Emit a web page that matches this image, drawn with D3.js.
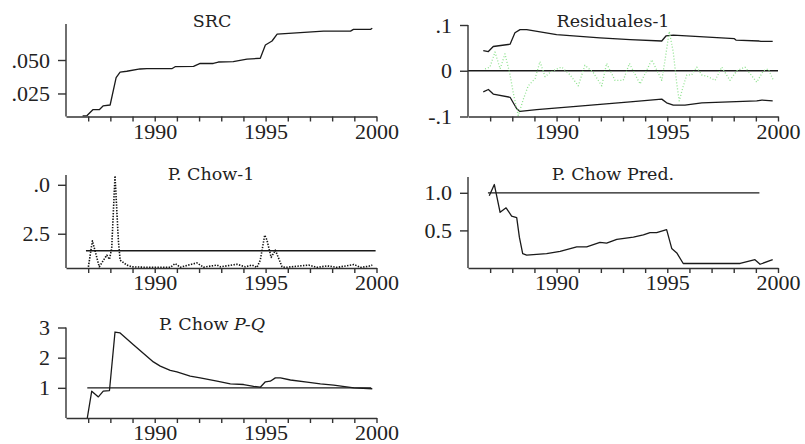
<!DOCTYPE html>
<html>
<head>
<meta charset="utf-8">
<script src="https://cdn.jsdelivr.net/npm/d3@7"></script>
<style>
  body { margin: 0; background: #fff; }
  svg { display: block; }
</style>
</head>
<body>
<div id="chart"></div>
<script>
// year ticks, only 1990/1995/2000 get a label
const yearTicks = [1987, 1988, 1989, 1990, 1991, 1992, 1993, 1994, 1995, 1996, 1997, 1998, 1999, 2000];
const yearLabels = ["1990", "1995", "2000"];

// SRC
const srcYears  = [1986.75, 1986.95, 1987.21, 1987.5, 1987.67, 1987.99, 1988.26, 1988.44, 1988.74, 1989.34, 1989.65,
                   1990.77, 1990.92, 1991.75, 1992.05, 1992.64, 1992.87, 1993.54, 1994.16, 1994.76, 1994.99,
                   1995.29, 1995.52, 1997.61, 1998.83, 1998.96, 1999.73, 1999.81];
const srcValues = [0.0082, 0.0085, 0.0129, 0.0129, 0.0157, 0.0164, 0.0368, 0.0410, 0.0416, 0.0433, 0.0435,
                   0.0435, 0.0450, 0.0452, 0.0475, 0.0474, 0.0485, 0.0488, 0.0507, 0.0513, 0.0612,
                   0.0642, 0.0694, 0.0716, 0.0716, 0.0729, 0.0729, 0.0737];
const srcTicks = [0.025, 0.050];
const srcTickLabels = [".025", ".050"];

// Residuales-1 (residual and +/- 2 s.e. bands)
const resYears  = [1986.77, 1986.99, 1987.22, 1987.45, 1987.67, 1987.90, 1988.05, 1988.27, 1988.50, 1988.72,
                   1989.03, 1989.25, 1989.48, 1989.70, 1990.01, 1990.23, 1990.61, 1990.98, 1991.28, 1991.66,
                   1992.04, 1992.26, 1992.64, 1993.01, 1993.29, 1993.77, 1994.30, 1994.75, 1994.90, 1995.09,
                   1995.27, 1995.43, 1995.54, 1995.70, 1995.88, 1996.10, 1996.33, 1996.55, 1996.85, 1997.16,
                   1997.46, 1997.83, 1998.14, 1998.51, 1999.04, 1999.34, 1999.56, 1999.79];
const resValues = [0.004, 0.008, 0.041, 0.004, 0.037, -0.009, -0.050, -0.098, -0.062, -0.033,
                   -0.017, 0.020, -0.013, -0.004, 0.004, 0.008, -0.009, -0.033, 0.012, -0.004,
                   -0.033, 0.016, -0.021, -0.021, 0.016, -0.029, 0.024, -0.021, 0.024, 0.086,
                   0.041, -0.029, -0.066, -0.037, -0.009, -0.009, 0.008, -0.009, -0.013, -0.021,
                   0.008, -0.021, 0.000, 0.008, -0.025, 0.000, 0.004, -0.021];
const upperYears  = [1986.69, 1986.92, 1987.14, 1987.90, 1988.12, 1988.35, 1988.65, 1990.0, 1991.96, 1993.32,
                     1994.75, 1994.94, 1995.27, 1998.03, 1998.10, 1999.15, 1999.23, 1999.76];
const upperValues = [0.044, 0.042, 0.053, 0.058, 0.083, 0.090, 0.090, 0.079, 0.072, 0.068,
                     0.065, 0.076, 0.078, 0.070, 0.067, 0.065, 0.064, 0.064];
const lowerYears  = [1986.69, 1986.92, 1987.14, 1987.90, 1988.20, 1988.35, 1989.10, 1990.61, 1993.32, 1994.75,
                     1994.97, 1995.27, 1995.80, 1996.56, 1999.04, 1999.27, 1999.76];
const lowerValues = [-0.046, -0.041, -0.051, -0.058, -0.083, -0.089, -0.085, -0.079, -0.068, -0.062,
                     -0.070, -0.075, -0.075, -0.070, -0.066, -0.064, -0.066];
const resTicks = [0.1, 0, -0.1];
const resTickLabels = [".1", "0", "-.1"];

// P. Chow-1
const chow1Years  = [1987.01, 1987.19, 1987.50, 1987.84, 1987.96, 1988.06, 1988.21, 1988.36, 1988.44, 1988.74,
                     1988.97, 1989.79, 1990.70, 1990.92, 1991.15, 1991.90, 1992.20, 1992.81, 1992.96, 1993.71,
                     1994.08, 1994.39, 1994.61, 1994.76, 1994.96, 1995.06, 1995.25, 1995.44, 1995.59, 1995.74,
                     1995.89, 1996.94, 1997.32, 1997.78, 1998.23, 1998.98, 1999.28, 1999.65, 1999.81];
const chow1Values = [0.81, 2.14, 0.81, 1.41, 1.19, 1.75, 5.46, 2.18, 1.15, 0.90,
                     0.81, 0.78, 0.78, 0.98, 0.79, 1.01, 0.79, 0.90, 0.81, 0.94,
                     0.81, 0.90, 0.78, 1.15, 2.43, 2.18, 1.29, 1.66, 1.24, 0.81,
                     0.78, 0.90, 0.78, 0.86, 0.78, 0.93, 0.78, 0.84, 0.90];
const chow1Crit = 1.63;
const chow1Ticks = [5.0, 2.5];
const chow1TickLabels = [".0", "2.5"];

// P. Chow Pred.
const predYears  = [1986.96, 1987.19, 1987.45, 1987.72, 1987.97, 1988.20, 1988.32, 1988.47, 1988.65, 1989.55,
                    1990.16, 1990.91, 1991.36, 1991.96, 1992.26, 1992.72, 1993.47, 1993.92, 1994.22, 1994.52,
                    1994.97, 1995.20, 1995.43, 1995.72, 1998.29, 1998.96, 1999.19, 1999.76];
const predValues = [0.96, 1.11, 0.74, 0.80, 0.69, 0.67, 0.41, 0.19, 0.17, 0.19,
                    0.22, 0.28, 0.28, 0.34, 0.33, 0.38, 0.41, 0.44, 0.47, 0.47,
                    0.51, 0.26, 0.20, 0.06, 0.06, 0.11, 0.05, 0.11];
const predTicks = [1.0, 0.5];
const predTickLabels = ["1.0", "0.5"];

// P. Chow P-Q
const pqYears  = [1986.96, 1987.16, 1987.46, 1987.68, 1987.96, 1988.21, 1988.44, 1989.04, 1989.94, 1990.25,
                  1990.70, 1991.00, 1991.60, 1992.05, 1992.81, 1993.41, 1994.01, 1994.46, 1994.76, 1994.99,
                  1995.21, 1995.44, 1995.67, 1996.12, 1996.87, 1997.47, 1998.07, 1998.98, 1999.81];
const pqValues = [0.00, 0.89, 0.70, 0.89, 0.91, 2.85, 2.82, 2.43, 1.86, 1.72,
                  1.58, 1.53, 1.39, 1.33, 1.22, 1.13, 1.11, 1.05, 1.02, 1.20,
                  1.22, 1.33, 1.33, 1.26, 1.19, 1.13, 1.09, 1.00, 0.97];
const pqTicks = [3, 2, 1];
const pqTickLabels = ["3", "2", "1"];

const toPoints = (xs, ys) => xs.map((x, i) => ({ x: x, y: ys[i] }));

const solid = { stroke: "#1a1a1a", width: 1.3, dash: null };
const green = { stroke: "#8fe28f", width: 1.3, dash: "1,2" };
const dotted = { stroke: "#111", width: 1.6, dash: "1.4,1.4" };

// panel layout (pixels) + data
let panels = [
  { title: ["SRC"], left: 66, right: 376.5, top: 24, bottom: 116.5, titleX: 212, titleY: 27,
    yDomain: [0.0078, 0.0769], ticks: srcTicks, tickLabels: srcTickLabels,
    series: [{ data: toPoints(srcYears, srcValues), style: solid }], refs: [] },
  { title: ["Residuales-1"], left: 468, right: 778, top: 25, bottom: 116.5, titleX: 613, titleY: 27,
    yDomain: [-0.1, 0.1], ticks: resTicks, tickLabels: resTickLabels,
    series: [
      { data: toPoints(upperYears, upperValues), style: solid },
      { data: toPoints(lowerYears, lowerValues), style: solid },
      { data: toPoints(resYears, resValues), style: green }
    ],
    refs: [{ value: 0, from: 1986, to: 2000 }] },
  { title: ["P. Chow-1"], left: 66, right: 376.5, top: 175, bottom: 268, titleX: 211, titleY: 180,
    yDomain: [0.75, 5.5], ticks: chow1Ticks, tickLabels: chow1TickLabels,
    series: [{ data: toPoints(chow1Years, chow1Values), style: dotted }],
    refs: [{ value: chow1Crit, from: 1986.9, to: 1999.96 }] },
  { title: ["P. Chow Pred."], left: 468, right: 778, top: 177, bottom: 268, titleX: 613, titleY: 179.5,
    yDomain: [0, 1.21], ticks: predTicks, tickLabels: predTickLabels,
    series: [{ data: toPoints(predYears, predValues), style: solid }],
    refs: [{ value: 1, from: 1986.9, to: 1999.16 }] },
  { title: ["P. Chow ", "P-Q"], left: 66, right: 376.5, top: 327.5, bottom: 418, titleX: 212, titleY: 329.5,
    yDomain: [0, 3], ticks: pqTicks, tickLabels: pqTickLabels,
    series: [{ data: toPoints(pqYears, pqValues), style: solid }],
    refs: [{ value: 1, from: 1986.96, to: 1999.76 }] }
];

let svg = d3.select("#chart")
  .append("svg")
  .attr("width", 805)
  .attr("height", 444);

panels.forEach(p => {
  let x = d3.scaleLinear().domain([1986, 2000]).range([p.left, p.right]);
  let y = d3.scaleLinear().domain(p.yDomain).range([p.bottom, p.top]);
  let g = svg.append("g");

  // reference lines
  p.refs.forEach(r => {
    g.append("line")
      .attr("x1", x(r.from)).attr("x2", x(r.to))
      .attr("y1", y(r.value)).attr("y2", y(r.value))
      .attr("stroke", "#1a1a1a")
      .attr("stroke-width", 1.3);
  });

  // series
  let line = d3.line().x(d => x(d.x)).y(d => y(d.y));
  p.series.forEach(s => {
    g.append("path")
      .datum(s.data)
      .attr("d", line)
      .attr("fill", "none")
      .attr("stroke", s.style.stroke)
      .attr("stroke-width", s.style.width)
      .attr("stroke-dasharray", s.style.dash)
      .attr("stroke-linejoin", "round");
  });

  // x axis
  let xAxis = g.append("g")
    .attr("transform", `translate(0,${p.bottom})`)
    .call(d3.axisBottom(x)
      .tickValues(yearTicks)
      .tickFormat(d => yearLabels.includes(String(d)) ? String(d) : "")
      .tickSizeInner(5).tickSizeOuter(0).tickPadding(1.5));

  // y axis
  let yAxis = g.append("g")
    .attr("transform", `translate(${p.left},0)`)
    .call(d3.axisLeft(y)
      .tickValues(p.ticks)
      .tickFormat((d, i) => p.tickLabels[i])
      .tickSizeInner(8).tickSizeOuter(0).tickPadding(8));
  // keep the y axis line running from the top to the x axis
  yAxis.select(".domain").attr("d", `M0,${p.top}V${p.bottom}`);

  [xAxis, yAxis].forEach(a => {
    a.attr("font-family", "'Liberation Serif', serif").attr("font-size", 22);
    a.selectAll("text").attr("fill", "#222");
    a.selectAll(".domain, .tick line").attr("stroke", "#333").attr("stroke-width", 1.4);
  });

  // title
  let t = g.append("text")
    .attr("x", p.titleX).attr("y", p.titleY)
    .attr("text-anchor", "middle")
    .attr("font-family", "'DejaVu Serif', serif")
    .attr("font-size", 17.5)
    .attr("fill", "#222");
  p.title.forEach((s, i) => {
    t.append("tspan").text(s).attr("font-style", i > 0 ? "italic" : null);
  });
});
</script>
</body>
</html>
